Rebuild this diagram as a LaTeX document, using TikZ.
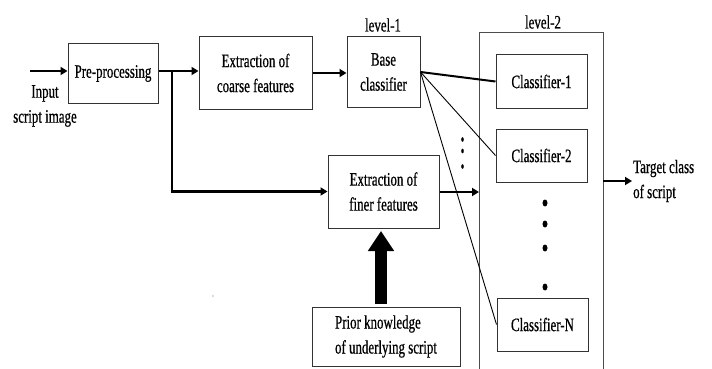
\documentclass[tikz,border=0pt]{standalone}
\usepackage{fontspec}
\setmainfont[FakeStretch=0.68,FakeBold=0.6]{Liberation Serif}
\usetikzlibrary{arrows.meta,calc}
\begin{document}
\begin{tikzpicture}[x=1pt,y=-1pt,
  txt/.style={font=\fontsize{19}{25}\selectfont, text=black},
  box/.style={txt, draw=black!80, line width=1pt, align=center, inner sep=0pt},
  arr/.style={line width=2.4pt, -{Triangle[length=7pt,width=8pt]}},
  bigarr/.style={line width=12pt, -{Triangle[length=20pt,width=25pt]}},
  thinline/.style={line width=0.9pt},
  thickline/.style={line width=2pt},
  dotsm/.style={fill=black}]
\useasboundingbox (0,0) rectangle (712,369);
\fill[white] (0,0) rectangle (712,369);
% boxes
\node[box, minimum width=90pt, minimum height=59pt] (pre) at (113,73.5) {Pre-processing};
\node[box, minimum width=113pt, minimum height=72pt] (coarse) at (255.5,73) {Extraction of\\coarse features};
\node[box, minimum width=73pt, minimum height=70pt] (base) at (383.5,72) {Base\\classifier};
\node[box, minimum width=91pt, minimum height=53pt] (c1) at (541.5,81.5) {Classifier-1};
\node[box, minimum width=91pt, minimum height=53pt] (c2) at (541.5,155.5) {Classifier-2};
\node[box, minimum width=91pt, minimum height=53pt] (cN) at (542.5,324.5) {Classifier-N};
\node[box, minimum width=111pt, minimum height=73pt] (finer) at (383.5,191.5) {Extraction of\\finer features};
\node[box, minimum width=148pt, minimum height=59pt, align=left] (prior) at (386,336.5) {Prior knowledge\\of underlying script};
% labels
\node[txt] (lv1) at (383,25) {level-1};
\node[txt] (lv2) at (543,22) {level-2};
\node[txt, align=center] (input) at (45,106) {Input\\script image};
\node[txt, align=left, anchor=west, inner sep=1pt] (target) at (632,181) {Target class\\of script};
% level-2 container
\draw[line width=1pt, black!70] (479,372) -- (479,33) -- (603,33) -- (603,372);
% arrows
\coordinate (inS) at (30,71);
\coordinate (split) at (172,71);
\draw[arr] (inS) -- (inS -| pre.west);
\draw[arr] (pre.east |- inS) -- (coarse.west |- inS);
\draw[arr] (split) -- (split |- finer.west) -- (finer.west);
\draw[arr] (coarse.east) -- (coarse.east -| base.west);
\draw[thickline] (base.east) -- (c1.west);
\draw[thinline] (base.east) -- (c2.west);
\draw[thinline] (base.east) -- (cN.west);
\coordinate (L2w) at (479,192);
\draw[arr] (finer.east |- L2w) -- (L2w);
\coordinate (L2e) at (603,181);
\draw[arr] (L2e) -- (target.west);
\coordinate (bb) at (381,304);
\coordinate (bt) at (381,231);
\draw[bigarr] (bb) -- (bt);
% dots
\foreach \y in {139.5,151,166.5} \fill[dotsm] (462.5,\y) ellipse (1.3pt and 2.3pt);
\foreach \y in {203,224,248,287} \fill[dotsm] (545,\y) ellipse (2.5pt and 3.5pt);
\fill[black!60] (213,296) circle (0.6pt);
\end{tikzpicture}
\end{document}
